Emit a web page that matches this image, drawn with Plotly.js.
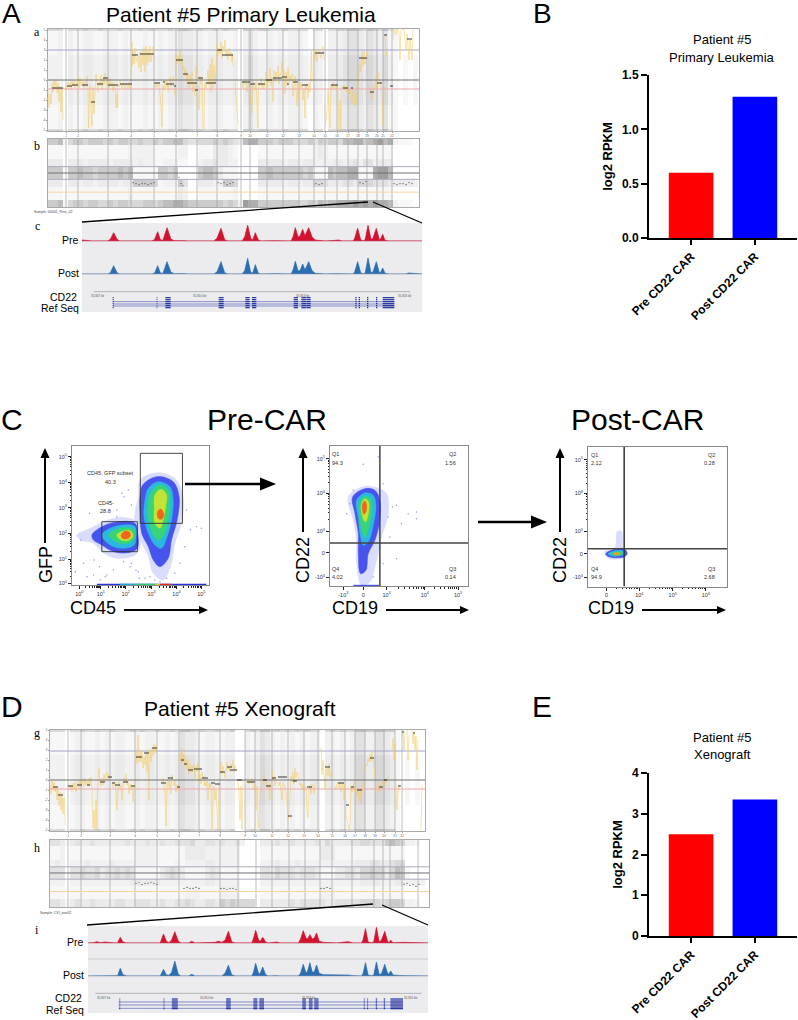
<!DOCTYPE html>
<html><head><meta charset="utf-8">
<script src="https://cdn.plot.ly/plotly-3.0.1.min.js"></script>
<style>html,body{margin:0;padding:0;background:#fff}#c{width:798px;height:1020px}</style>
</head><body><div id="c"></div>
<script>
// ---------- Bar panels ----------
const barCategories = ["Pre CD22 CAR", "Post CD22 CAR"];
const barColors = ["#ff0000", "#0000ff"];
const primaryRPKM = [0.6, 1.3];
const xenoRPKM = [2.5, 3.35];

// ---------- Copy-number panel a (primary leukemia) ----------
const aChromLines = [66,78,108,131,154,176,197,217,241,250,267,283,299,314,325,337,348,358,367,377,383,392];
const aSegStart = [52,67,72,82,91,97,103,108,120,132,140,154,163,166,174,176,183,187,195,198,206,217,222,242,250,258,266,273,282,287,293,302,315,331,343,351,359,370,377,384,390,407];
const aSegEnd   = [63,72,78,88,95,103,108,118,132,138,154,160,165,174,176,183,188,197,198,203,216,222,233,250,255,265,272,282,287,289,298,308,324,338,348,353,367,374,382,387,393,412];
const aSegLevel = [-8,-6,-5,-5,-22,-4,2,-5,-4,25,26,-3,-2,-4,-6,20,6,-3,-10,2,-3,30,25,-2,-4,-4,0,2,3,-4,-2,-5,27,-5,-8,-8,22,-12,-3,45,-6,41];
const aYellowX = [48,49,50,51,52,53,54,55,56,57,58,59,60,61,62,63,null,
66,67,68,69,70,71,72,73,74,75,76,77,78,79,80,81,83,84,85,86,87,88,88.5,89,90,91,92,92.5,93,94,95,96,97,98,99,100,101,102,103,104,105,106,107,108,
109,110,111,112,113,114,115,116,117,117.5,118,119,120,122,123,125,126,128,129,130,131,
132,132.5,133,134,135,136,137,138,139,140,141,142,143,144,145,146,147,148,149,150,151,152,153,154,null,
155,156,157,158,159,160,161,162,162.5,163,164,165,166,167,168,169,170,171,172,173,174,175,175.5,
176,177,178,179,180,181,182,183,184,185,186,187,188,189,190,191,192,193,194,195,196,197,198,199,199.5,200,201,202,203,204,204.5,205,206,207,208,209,210,211,212,213,214,215,216,
217,218,219,220,221,222,223,224,225,226,227,228,229,230,231,232,232.5,233,null,235,236,237,238,null,
241,242,243,244,245,246,247,248,249,250,251,252,252.5,253,254,255,256,257,258,258.5,259,260,261,262,263,264,265,266,267,268,269,270,271,272,273,273.5,274,275,276,277,278,279,280,281,282,283,284,285,286,287,288,289,290,291,292,293,294,295,296,297,298,299,300,301,302,303,304,305,305.5,306,307,308,309,310,311,311.5,312,null,
314,315,316,317,318,319,320,321,322,323,324,null,
326,327,328,329,330,331,332,333,334,335,336,337,338,339,340,341,341.5,342,343,344,345,346,347,348,349,350,351,352,353,354,355,356,357,358,359,360,361,362,363,364,365,366,367,368,null,
369,370,371,372,373,374,375,376,377,378,379,380,381,382,383,384,null,385,386,387,null,393,394,396,397,399,400,401,404,406,407,408,409,410,411,412,413];
const aYellowY = [-10,-28,-14,-24,-3,-12,1,-8,0,-13,-3,-22,-6,-32,-8,-40,null,
-5,-10,-2,-7,-3,-9,-1,-6,0,-8,-3,-4,3,-8,2,-6,-1,-8,-2,-5,4,-10,-48,-25,-5,-30,-46,-15,-7,-34,-8,6,-3,-12,-2,-6,5,-10,2,-5,7,1,-6,-2,
-8,2,-6,-2,-11,-3,-7,-28,-14,-28,-4,-7,-1,-8,-3,-9,-3,-8,-2,-9,-4,
38,14,30,16,32,18,22,24,12,28,8,30,15,33,8,34,15,30,18,34,18,27,33,20,null,
-4,-8,-2,-7,-4,-12,-25,-47,-14,-5,-10,-1,-8,0,-12,-3,3,-7,-2,4,-6,-15,-8,
26,16,24,18,30,16,22,10,14,4,10,-2,6,-8,5,-5,8,-12,-2,-16,14,0,-8,-30,-6,4,-4,2,-46,-50,-10,-3,-8,-2,10,-5,16,-12,22,-8,15,-3,8,
36,24,32,26,38,22,34,28,40,24,30,20,32,24,28,18,26,14,null,-2,-20,-38,-44,null,
-6,-1,-8,0,-4,-3,-12,-3,-6,-14,-20,-33,-8,-1,-7,-10,-2,-38,-48,-8,-3,-6,2,-9,-3,-10,-2,8,-8,1,-3,12,-6,3,-22,-4,10,-2,8,3,14,-4,6,5,18,0,10,-14,8,-6,12,-2,4,0,6,-16,-2,4,-6,-26,-4,-20,-2,-8,-4,-20,-8,-38,-4,-10,-4,-18,-3,-12,16,30,-2,null,
32,20,30,18,25,30,26,22,28,34,20,null,
-44,-30,-10,-30,-48,-5,-10,-2,-8,-6,-10,-5,-12,-50,-20,-50,-10,-6,-8,-5,-10,-6,-12,-8,-14,-10,-18,-24,-8,-20,-26,-12,-24,-6,3,18,8,28,14,30,16,24,28,20,null,
-6,-14,-10,-20,-14,-6,-10,4,-10,8,2,-2,-6,-16,-46,-6,null,44,24,30,null,40,51,45,51,48,20,50,51,30,46,35,20,40,32,20,50];
// gray dot density per 5-unit column, one string per horizontal band
const aBandEdges = [-51,-49,-25,25,49,51];
const aDensityEdge  = "555"+"1"+"55"+"565565"+"55655"+"56565"+"5565"+"776"+"56556"+"5655"+"0"+"66566"+"55565"+"5551"+"55"+"0"+"5566"+"7765"+"76574"+"10000";
const aDensityOuter = "112"+"0"+"21"+"122112"+"22121"+"11211"+"2122"+"433"+"22122"+"2112"+"0"+"24211"+"21212"+"2210"+"21"+"0"+"2223"+"4432"+"43241"+"10000";
const aDensityMid   = "222"+"0"+"32"+"233223"+"33232"+"22322"+"3233"+"544"+"33233"+"3223"+"0"+"35322"+"32323"+"3321"+"32"+"0"+"3334"+"5543"+"54352"+"10101";

// ---------- B-allele panel b ----------
const bBandEdges = [-32,-25,-13,-6,6,13,26,32];
const bDensity = [
 "667"+"1"+"5665665565665"+"556656778"+"8766"+"66666565"+"2"+"988"+"66666666556"+"576"+"7788898989887"+"21110",
 "111"+"0"+"1111111111112"+"111111111"+"3200"+"11111112"+"0"+"000"+"11111111111"+"111"+"1111111111111"+"00000",
 "333"+"0"+"3323323333233"+"666651222"+"6400"+"33322665"+"0"+"000"+"33333233233"+"554"+"333443"+"555"+"4443"+"33332",
 "666"+"0"+"6676656666767"+"111116656"+"0000"+"67763111"+"0"+"000"+"66766666656"+"111"+"767788"+"111"+"8997"+"00000",
 "333"+"0"+"3332333323333"+"232211222"+"1100"+"23343322"+"0"+"000"+"33333233233"+"222"+"2332342442333"+"00000",
 "111"+"0"+"1111111111112"+"222211111"+"2200"+"11133321"+"0"+"000"+"11111111111"+"232"+"1111111111111"+"00000",
 "667"+"1"+"5665666565665"+"565565667"+"7544"+"55565654"+"3"+"788"+"66656665556"+"465"+"6657788678978"+"21110"
];
const bDotsX = [133,136,139,142,145,148,151,154,179,181,183,218,221,224,227,230,233,316,319,322,360,363,366,394,397,400,403,406,409,412];
const bDotsY = [-9,-10,-11,-10,-10,-11,-10,-9,-4,-10,-12,-9,-10,-9,-11,-10,-9,-10,-11,-10,-9,-10,-8,-10,-11,-10,-10,-11,-9,-10];

// ---------- Copy-number panel g (xenograft) ----------
const gChromLines = [68,81,110,135,157,179,199,220,245,255,272,288,304,318,332,345,355,365,375,384,395,402];
const gSegStart = [53,58,68,77,87,100,108,112,115,123,131,136,144,152,161,168,177,181,184,188,194,202,211,215,220,227,230,237,247,263,266,272,278,288,293,307,325,338,346,351,357,370,379,384,398,402,413];
const gSegEnd   = [58,63,73,82,90,105,112,115,120,128,135,142,149,157,166,173,180,184,187,193,202,208,215,220,225,232,237,242,255,267,271,276,287,292,297,312,330,344,349,354,362,374,383,387,401,404,415];
const gSegLevel = [-7,-15,-6,-5,-5,-2,3,-3,-5,-2,-6,23,27,32,-3,2,-7,20,16,10,11,2,-3,-4,8,13,10,0,-2,0,-6,2,3,-36,-1,-7,13,-3,-25,-7,-10,22,-7,0,-6,48,47];
const gYellowX = [50,51,52,53,54,55,56,57,58,59,60,61,62,63,64,65,65.5,null,
69,70,71,72,73,74,75,76,77,78,79,80,81,83,84,85,86,87,88,89,90,91,92,93,94,95,96,97,97.5,98,99,100,101,102,103,104,105,106,107,108,109,110,null,
112,113,115,116,117,118,119,120,121,122,123,124,125,126,127,128,129,130,131,132,133,134,135,
136,137,138,139,140,141,142,143,144,145,146,147,148,149,150,151,152,153,154,155,156,157,null,
162,163,164,165,166,166.5,167,168,169,170,171,172,173,174,175,176,177,178,179,null,
180,181,182,183,184,185,186,187,188,189,190,191,192,193,194,195,196,197,198,199,200,201,202,203,204,204.5,205,206,207,208,209,210,211,212,213,214,215,216,217,218,219,220,221,222,223,224,225,226,227,228,229,230,231,232,233,234,235,236,null,
238,239,240,240.5,241,242,243,null,
247,248,249,250,251,252,253,254,255,256,257,258,259,260,262,263,264,265,266,267,268,269,270,271,272,273,274,275,276,278,279,280,282,283,284,285,286,287,288,289,290,291,292,293,294,295,296,297,298,299,300,301,302,303,304,305,306,307,308,309,310,311,312,313,314,315,316,null,
321,322,323,324,325,326,327,328,329,330,331,null,
335,336,337,338,339,340,341,342,343,344,345,346,347,348,349,350,351,352,353,354,355,356,357,358,359,360,361,362,363,364,365,366,367,368,369,370,371,372,373,374,375,null,
376,377,378,379,380,381,382,383,384,385,386,387,388,null,392,393,394,395,396,397,398,399,null,
403,404,405,null,407,408,409,null,412,413,414,415,416,417,418,null,421,422];
const gYellowY = [-5,-14,0,-10,-2,-12,-6,-20,-8,-26,-12,-30,-14,-34,-18,-38,-45,null,
-3,-10,-5,-11,-3,-10,-2,-12,-6,-2,-8,1,-7,1,-6,2,-5,-1,-6,2,-6,3,-10,-48,-30,-50,-20,-49,-12,-6,12,-2,-6,2,-5,6,-2,4,8,0,6,1,null,
-2,-8,-2,-12,-30,-6,-2,-10,-5,-20,-3,2,-3,6,-5,-1,-14,-4,-10,-5,-22,-6,-8,
30,16,45,18,28,18,30,12,24,15,28,8,30,-20,30,18,32,24,36,26,35,28,null,
-4,2,-6,-15,-46,-10,-3,3,-8,-1,-14,5,-3,-6,-1,-12,-5,-4,-8,null,
28,16,32,18,26,14,22,10,20,6,16,8,14,8,16,2,14,8,18,-2,6,-4,8,2,4,-6,-2,-6,-1,-20,-3,-8,-4,-50,-12,-6,-20,-10,-30,-50,-8,4,18,6,14,8,2,10,18,10,14,8,16,12,20,8,15,10,null,
-2,-12,-40,-18,-6,-50,0,null,
-3,1,-4,0,-3,2,-6,-10,-4,-30,-6,-40,-48,-12,-4,-1,4,-2,-6,-2,-10,-4,-20,-4,10,0,4,-6,-1,-3,-6,-2,-20,-3,-4,-6,-12,-30,-40,-34,-4,4,-2,8,-4,12,2,8,6,-1,-6,-3,-10,-4,-12,-6,-8,-30,-38,-10,-5,-14,-4,-5,-14,-4,-2,null,
32,5,20,8,-10,10,12,4,16,2,10,null,
-6,-10,-3,-2,-8,-3,-12,-6,-3,-20,-4,-36,-42,-46,-50,-44,-6,-12,-5,-2,-12,-8,-16,-10,-20,-8,-24,-12,-2,10,12,16,14,22,18,26,18,28,20,14,2,null,
-12,-8,-2,-12,-4,-10,-2,-4,0,-6,1,-2,4,null,30,42,20,36,-10,-30,-10,-6,null,
48,30,48,null,50,20,45,null,50,36,48,30,44,10,40,null,-50,-5];
const gBandEdges = [-51,-49,-25,25,48,50];
const gDensityEdge  = "555"+"1"+"5565565565556565565565"+"776"+"56556556"+"00"+"565"+"77"+"5656565655"+"0"+"565655"+"77"+"66"+"77"+"66"+"110000";
const gDensityOuter = "111"+"0"+"1221121212211212211212"+"433"+"21221122"+"00"+"212"+"43"+"2121212122"+"0"+"221212"+"44"+"22"+"44"+"32"+"100000";
const gDensityMid   = "222"+"0"+"2332232323322323322323"+"544"+"32332233"+"00"+"323"+"54"+"3232323233"+"0"+"332323"+"55"+"33"+"55"+"43"+"101010";

// ---------- B-allele panel h ----------
const hChromLines = [68,81,110,135,157,179,220,238,256,272,289,305,320,332,352,374,383,390,402,418];
const hBandEdges = [-33,-25,-13,-6,6,13,26,32];
const hDensity = [
 "443"+"1"+"3433433334433"+"4443343344"+"5433443"+"6565"+"5550"+"333333434444"+"433"+"44444555545665"+"2210",
 "111"+"0"+"1111111111111"+"1111111111"+"2221111"+"2222"+"0000"+"111111111111"+"222"+"11111111111111"+"0000",
 "222"+"0"+"2222222222223"+"3333322222"+"2222332"+"2222"+"0000"+"222222222222"+"222"+"22222333322233"+"2222",
 "444"+"0"+"4454453445454"+"1111134543"+"1111343"+"1111"+"0000"+"443544434443"+"111"+"33443556553576"+"1000",
 "232"+"0"+"2223222232222"+"2222111121"+"2222332"+"2222"+"0000"+"222322232222"+"222"+"22223334433455"+"0000",
 "112"+"0"+"1111111111111"+"2222111111"+"3333222"+"2222"+"0000"+"111111111111"+"333"+"11111111111111"+"0000",
 "443"+"1"+"3433433333343"+"3343343344"+"4533443"+"4334"+"2000"+"333433433334"+"353"+"33344554446765"+"2210"
];
const hDotsX = [136,139,142,145,148,151,154,157,184,187,190,193,196,199,221,224,227,230,233,236,321,324,327,330,404,407,410,413,416,419];
const hDotsY = [-10,-9,-11,-10,-10,-9,-10,-11,-15,-14,-15,-15,-14,-15,-15,-15,-16,-15,-15,-16,-15,-15,-14,-15,-11,-10,-12,-11,-13,-11];

// ---------- Coverage tracks c ----------
const cX    = [245,265,275, 322,330,340,350,358, 455,463,472,480,488,500,512,522, 545,553,562, 640,650,662,673,682, 725,733,742,751,757,765,774,782, 820, 872,878,885,893,899,907,914,925,935,945,975, 1005,1015,1025, 1058,1063,1072,1081,1090,1095,1103,1112,1118,1128,1137,1141,1147,1154,1165, 1215,1225,1265];
const cPre  = [3,2,0, 0,5,25,5,0, 0,5,28,4,2,40,5,1, 2,1,0, 0,8,38,4,0, 0,12,47,8,3,25,3,0, 1, 0,12,40,12,15,35,16,40,12,3,0, 2,3,0, 0,8,38,4,0,6,47,5,8,38,4,6,20,2,0, 0,0,0];
const cPost = [0,1,0, 0,4,25,4,0, 0,3,25,3,2,37,5,1, 2,1,0, 0,6,37,4,0, 0,10,47,6,2,28,2,0, 1, 0,12,38,10,10,30,12,37,10,2,0, 1,1,0, 0,6,37,4,0,5,48,4,6,37,4,5,18,2,0, 0,3,0];
const cGeneExonStart = [337,469,495,655,735,755,880,903,918,1065,1075,1100,1127,1147];
const cGeneExonEnd   = [340,471,511,670,748,768,893,917,931,1069,1079,1104,1131,1182];
const cGeneRows = [893,899,905,911,917,923];
const cGeneLines = [905,912,918];
const cRulerLabels = ["35,807 kb","35,810 kb","35,813 kb","35,816 kb"];
const cRulerPos = [292,600,908,1215];

// ---------- Coverage tracks i ----------
const iX    = [83,100,110,120,135,150,165, 172,180,188,200, 300,310,318,326,334,344,354,362, 385,395,405, 465,475,485,495,505,515,525, 575,580,587,596,601,608,617,625, 650,660, 715,722,730,738,743,750,757,763,770,778,790, 830,855,865,880, 905,910,917,925,935,942,950,958,965,975,984,988,993,1000,1030,1105];
const iPre  = [0,1,4,1,3,1,0, 1,17,3,0, 0,27,6,1,8,34,6,0, 0,5,0, 2,5,2,8,35,4,0, 0,12,38,8,5,17,3,0, 3,0, 0,12,37,15,12,25,12,14,30,5,2, 0,3,4,0, 0,10,43,3,1,3,47,4,8,35,3,2,8,1,2,0];
const iPost = [0,0,1,0,1,0,0, 1,23,4,0, 0,20,4,2,10,45,6,0, 0,5,0, 0,1,0,8,32,4,0, 0,10,38,6,8,27,4,0, 1,0, 0,8,35,10,14,40,12,12,33,8,4, 2,3,3,1, 0,8,40,3,1,3,42,5,6,35,6,7,15,3,1,0];
const iGeneExonStart = [177,310,335,498,580,598,727,747,763,912,922,948,972,992];
const iGeneExonEnd   = [180,313,353,512,592,612,738,758,776,915,925,952,976,1030];
const iGeneRows = [297,303,309,315,321,326];
const iGeneLines = [306,315,325];
const iRulerLabels = ["35,807 kb","35,810 kb","35,813 kb","35,816 kb"];
const iRulerPos = [130,440,748,1055];

// ---------- Flow plots: density outlines in channel units, lightest layer first ----------
const flowColors = ["#d9dcfb","#4653ec","#2cb8de","#38d478","#c4e434","#f2641e"];
const f1BlobBX = [[240,290,345,370,365,345,335,310,280,265,245,225,225,235],[248,290,340,358,352,335,325,300,280,265,245,240,240],[265,295,330,340,335,320,305,285,265,252,255],[275,300,325,330,325,312,295,278,265,265],[285,303,320,318,310,300,285,283],[293,303,312,305,295]];
const f1BlobBY = [[150,128,145,200,280,340,400,450,430,380,340,300,250,200],[165,140,155,200,270,330,385,410,390,350,310,250,200],[175,155,170,210,270,325,355,345,310,260,210],[185,165,180,220,270,315,330,310,265,215],[195,178,195,225,270,295,280,235],[245,237,255,268,265]];
const f1BlobAX = [[50,90,130,180,225,240,240,225,170,125,100,60],[95,125,175,225,233,232,205,160,125,100],[125,150,190,225,228,222,190,150],[145,165,195,222,222,205,175],[170,190,212,218,200,180],[183,197,210,210,198,186]];
const f1BlobAY = [[315,295,275,262,272,300,350,375,385,365,340,330],[315,290,275,280,310,355,368,365,345,330],[315,295,285,290,320,345,355,345],[315,300,293,300,325,340,338],[315,303,303,320,332,328],[315,303,308,320,327,324]];
const f1SpeckX = [45,62,70,88,102,118,135,150,170,185,205,215,228,238,380,392,410,425,375,360,345,320,300,285,270,255,235,210,190,160,140,120,100,80,170,192,214];
const f1SpeckY = [425,330,400,250,390,410,440,215,240,190,180,400,420,445,240,300,290,295,350,400,430,445,455,450,440,445,425,410,395,420,435,450,435,440,260,200,225];
const f1GateX = [[241,368,368,241,241],[125,232,232,125,125]];
const f1GateY = [[70,70,280,280,70],[275,275,365,365,275]];
const f1TickX = [57,122,197,275,350,425];
const f1TickY = [80,157,233,310,388,460];
const f1TickText = ["5","4","3","2","1","0"];
const f1XTickText = ["0","1","2","3","4","5"];
const f1AxisStripX = [[110,440],[180,225],[225,285],[285,300],[300,336]];
const f1AxisStripColors = ["#2733e6","#1fb4d8","#2fd26e","#e6d820","#ef2b1e"];

const f2BlobX = [[1045,1085,1125,1160,1165,1145,1130,1110,1085,1070,1070,1060],[1058,1095,1125,1140,1140,1125,1105,1098,1082,1075,1075,1065],[1070,1095,1120,1128,1122,1105,1090,1082,1075],[1078,1095,1112,1116,1110,1095,1085,1080],[1084,1095,1106,1106,1097,1090],[1087,1095,1100,1098,1092]];
const f2BlobY = [[320,290,290,310,370,440,510,575,585,520,450,390],[320,295,300,330,390,450,490,540,550,490,430,370],[330,308,315,345,395,455,465,440,385],[340,318,325,350,395,440,420,380],[345,325,335,365,395,385],[345,332,345,365,372]];
const f2SpeckX = [1090,1135,1150,1165,1178,1190,1205,1225,1250,1250,1170,1190,1060,1050,1040,1150,1140,1120];
const f2SpeckY = [222,200,280,380,350,345,400,370,365,385,440,505,300,340,370,520,470,560];
const f2TickX = [1030,1090,1160,1275,1375];
const f2XText = ["-10<sup>3</sup>","0","10<sup>3</sup>","10<sup>4</sup>","10<sup>5</sup>"];
const f2TickY = [205,308,422,487,560];
const f2YText = ["10<sup>5</sup>","10<sup>4</sup>","10<sup>3</sup>","0","-10<sup>3</sup>"];
const f2QuadLabels = ["Q1","94.3","Q2","1.56","Q4","4.02","Q3","0.14"];
const f2QuadX = [1008,1014,1358,1352,1008,1014,1358,1352];
const f2QuadY = [192,218,192,218,535,560,535,560];
const f2GateVX = 1140, f2GateHY = 458;

const f3BlobX = [[195,225,232,245,250,262,245,205],[198,220,255,262,250,205],[205,225,250,255,240,212],[212,228,245,248,235],[220,230,240,238,225]];
const f3BlobY = [[365,355,305,305,355,372,385,385],[372,360,358,372,382,380],[372,363,363,372,378,378],[372,366,367,372,376],[372,368,370,374,375]];
const f3BlobColors = ["#d9dcfb","#4653ec","#2cb8de","#38d478","#f0a020"];
const f3TickX = [200,298,398,497];
const f3XText = ["0","10<sup>4</sup>","10<sup>5</sup>","10<sup>6</sup>"];
const f3TickY = [90,190,305,372,443];
const f3YText = ["10<sup>5</sup>","10<sup>4</sup>","10<sup>3</sup>","0","-10<sup>3</sup>"];
const f3QuadLabels = ["Q1","2.12","Q2","0.28","Q4","94.9","Q3","2.68"];
const f3QuadX = [163,170,513,508,163,170,513,508];
const f3QuadY = [76,100,76,100,417,441,417,441];
const f3GateVX = 253, f3GateHY = 357;

// ---------- helpers ----------
const W = 798, H = 1020, SANS = "Liberation Sans, Arial, sans-serif", SERIF = "Liberation Serif, Times New Roman, serif";
const traces = [], annotations = [], shapes = [];
const layout = {width:W,height:H,margin:{l:0,r:0,t:0,b:0,pad:0},paper_bgcolor:"#fff",plot_bgcolor:"rgba(0,0,0,0)",showlegend:false,font:{family:SANS,color:"#000"},annotations,shapes,hovermode:false};
let axisCount = 0;
function panel(l,r,top,bot,xo,yo){
  axisCount++; const n = axisCount===1?"":axisCount;
  const id = {x:"x"+n,y:"y"+n};
  layout["xaxis"+n] = Object.assign({domain:[l/W,r/W],anchor:id.y,showgrid:false,zeroline:false,showticklabels:false,ticks:""},xo);
  layout["yaxis"+n] = Object.assign({domain:[1-bot/H,1-top/H],anchor:id.x,showgrid:false,zeroline:false,showticklabels:false,ticks:""},yo);
  return id;
}
function add(id,t){traces.push(Object.assign({xaxis:id.x,yaxis:id.y,hoverinfo:"skip"},t));}
function label(text,px,py,size,o){annotations.push(Object.assign({text,xref:"paper",yref:"paper",x:px/W,y:1-py/H,showarrow:false,xanchor:"center",yanchor:"middle",font:{size,family:SANS,color:"#000"}},o||{}));}
function pline(x0,y0,x1,y1,w,c){shapes.push({type:"line",xref:"paper",yref:"paper",x0:x0/W,y0:1-y0/H,x1:x1/W,y1:1-y1/H,line:{color:c||"#000",width:w}});}
function arrow(x0,y0,x1,y1,w,hl,hw){
  const d=Math.hypot(x1-x0,y1-y0),ux=(x1-x0)/d,uy=(y1-y0)/d;
  const bx=x1-ux*hl,by=y1-uy*hl;
  pline(x0,y0,bx,by,w);
  const P=(x,y)=>(x/W)+","+(1-y/H);
  shapes.push({type:"path",xref:"paper",yref:"paper",path:"M"+P(x1,y1)+" L"+P(bx-uy*hw,by+ux*hw)+" L"+P(bx+uy*hw,by-ux*hw)+" Z",fillcolor:"#000",line:{width:0}});
}
function vLines(id,list,lo,hi,c,w){const xs=[],ys=[];list.forEach(v=>{xs.push(v,v,null);ys.push(lo,hi,null);});add(id,{type:"scatter",mode:"lines",x:xs,y:ys,line:{color:c,width:w}});}
function hLine(id,a,b,y,c,w){add(id,{type:"scatter",mode:"lines",x:[a,b],y:[y,y],line:{color:c,width:w}});}
const grayScale=[[0,"#ffffff"],[0.11,"#f7f7f7"],[0.22,"#f1f1f1"],[0.33,"#ebebeb"],[0.44,"#e2e2e2"],[0.56,"#d8d8d8"],[0.67,"#cbcbcb"],[0.78,"#bdbdbd"],[0.89,"#aeaeae"],[1,"#9e9e9e"]];
function density(id,x0,step,rows,edges){
  const n=Math.max.apply(null,rows.map(s=>s.length));
  const z=rows.map(s=>{const a=s.split("").map(Number);while(a.length<n)a.push(0);return a;});
  const xe=[];for(let i=0;i<=n;i++)xe.push(x0+step*i);
  add(id,{type:"heatmap",x:xe,y:edges,z,zmin:0,zmax:9,colorscale:grayScale,showscale:false,zsmooth:false});
}
function segs(id,s,e,v){const xs=[],ys=[];s.forEach((a,i)=>{xs.push(a,e[i],null);ys.push(v[i],v[i],null);});add(id,{type:"scatter",mode:"lines",x:xs,y:ys,line:{color:"#222",width:0.9}});}
const genomeAxis=(a,b)=>({range:[a,b],showline:true,mirror:true,linecolor:"#aaaaaa",linewidth:1});

function cnPanel(top,bot,xr,chrom,rows,edges,yx,yy,ss,se,sl,blueY){
  const yTicks=[-50,-40,-30,-20,-10,0,10,20,30,40,50];
  const id=panel(xr[0],xr[1],top,bot,Object.assign(genomeAxis(xr[0],xr[1]),{showticklabels:true,tickmode:"array",tickvals:chrom,ticktext:chrom.map((c,i)=>String(i+1)),tickfont:{size:3,color:"#555"},ticks:"outside",ticklen:1,tickcolor:"#999"}),
    Object.assign(genomeAxis(edges[0],edges[edges.length-1]),{showticklabels:true,tickmode:"array",tickvals:yTicks,ticktext:yTicks.map(v=>(v/10).toFixed(0)),tickfont:{size:3,color:"#555"},ticks:"outside",ticklen:1,tickcolor:"#999"}));
  density(id,xr[0],5,rows,edges);
  vLines(id,chrom,edges[0],edges[edges.length-1],"#a0a0a0",0.7);
  hLine(id,xr[0],xr[1],blueY,"#a4a4cc",1);
  add(id,{type:"scatter",mode:"lines",x:yx,y:yy,connectgaps:false,line:{color:"rgba(243,204,96,0.72)",width:0.75}});
  hLine(id,xr[0],xr[1],0,"#707070",1);
  hLine(id,xr[0],xr[1],-9,"#f0a8a8",1);
  segs(id,ss,se,sl);
}
function bafPanel(top,bot,xr,chrom,rows,edges,dx,dy){
  const id=panel(xr[0],xr[1],top,bot,genomeAxis(xr[0],xr[1]),genomeAxis(edges[0],edges[edges.length-1]));
  density(id,xr[0],5,rows,edges);
  vLines(id,chrom,edges[0],edges[edges.length-1],"#a0a0a0",0.7);
  hLine(id,xr[0],xr[1],6,"#b0a8bc",1);
  hLine(id,xr[0],xr[1],0,"#707070",1);
  hLine(id,xr[0],xr[1],-6,"#b0a8bc",1);
  hLine(id,xr[0],xr[1],-18,"#f5d4a0",1);
  add(id,{type:"scatter",mode:"markers",x:dx,y:dy,marker:{size:1.2,color:"#444"}});
}
function track(l,r,top,bot,xr,xs,ys,color){
  const id=panel(l,r,top,bot,{range:xr},{range:[0,(bot-top)*3]});
  add(id,{type:"scatter",mode:"lines",x:xs,y:ys,fill:"tozeroy",fillcolor:color,line:{color,width:0.7}});
}
function gene(l,r,top,bot,xr,ss,se,rows,geneLines,lineStart,lineEnd,rulerY,rulerFrom,rulerTo,rPos,rLab){
  const id=panel(l,r,top,bot,{range:xr},{range:[bot*3,top*3]});
  add(id,{type:"scatter",mode:"lines",x:[rulerFrom,rulerTo],y:[rulerY,rulerY],line:{color:"#9a9a9a",width:0.7}});
  const lx=[],ly=[];geneLines.forEach(y=>{lx.push(lineStart,lineEnd,null);ly.push(y,y,null);});
  add(id,{type:"scatter",mode:"lines",x:lx,y:ly,line:{color:"#5a64b8",width:0.7}});
  const ex=[],ey=[];ss.forEach((a,i)=>rows.forEach(y=>{ex.push(a,se[i],null);ey.push(y,y,null);}));
  add(id,{type:"scatter",mode:"lines",x:ex,y:ey,line:{color:"#20309c",width:1.2}});
  rPos.forEach((p,i)=>annotations.push({text:rLab[i],xref:id.x,yref:id.y,x:p,y:rulerY+2,showarrow:false,font:{size:3,color:"#555",family:SANS},yanchor:"top"}));
  return id;
}
function flowAxes(l,r,top,bot,xr,yr,xt,xtt,yt,ytt,minorX,minorY){
  const common={showline:true,mirror:true,linecolor:"#888888",linewidth:1,showticklabels:true,ticks:"outside",ticklen:3,tickcolor:"#222",tickwidth:1,tickfont:{size:5.5,color:"#333"},tickmode:"array"};
  return panel(l,r,top,bot,Object.assign({},common,{range:xr,tickvals:xt,ticktext:xtt,minor:{ticks:"outside",ticklen:1.5,tickcolor:"#222",tickmode:"array",tickvals:minorX}}),
                        Object.assign({},common,{range:yr,tickvals:yt,ticktext:ytt,minor:{ticks:"outside",ticklen:1.5,tickcolor:"#222",tickmode:"array",tickvals:minorY}}));
}
function blobs(id,X,Y,colors){X.forEach((xs,i)=>add(id,{type:"scatter",mode:"lines",x:xs.concat(xs[0]),y:Y[i].concat(Y[i][0]),fill:"toself",fillcolor:colors[i],line:{color:colors[i],width:0.5,shape:"spline",smoothing:1}}));}
function minorBetween(t){const out=[];const k=[2,3,4,5,6,7,8,9];for(let i=0;i<t.length-1;i++){k.forEach(v=>out.push(t[i]+(t[i+1]-t[i])*Math.log10(v)));}return out;}
function quad(id,labs,xs,ys){labs.forEach((t,i)=>annotations.push({text:t,xref:id.x,yref:id.y,x:xs[i],y:ys[i],showarrow:false,font:{size:5.5,color:"#333",family:SANS}}));}
function barPanel(top,bot,vals,ymax,ticks){
  const id=panel(649,797,top,bot,
   {range:[-0.66,1.66],showline:true,linewidth:2,linecolor:"#000",ticks:"outside",ticklen:5,tickwidth:2,tickcolor:"#000",showticklabels:true,tickmode:"array",tickvals:[0,1],ticktext:barCategories,tickangle:-45,tickfont:{size:12,family:SANS,weight:700,color:"#000"}},
   {range:[0,ymax],showline:true,linewidth:2,linecolor:"#000",ticks:"outside",ticklen:6,tickwidth:2,tickcolor:"#000",showticklabels:true,tickmode:"array",tickvals:ticks,ticktext:ticks.map(t=>ymax<2?t.toFixed(1):String(t)),tickfont:{size:12,family:SANS,weight:700,color:"#000"},title:{text:"log2 RPKM",font:{size:13,family:SANS,weight:700,color:"#000"},standoff:6}});
  add(id,{type:"bar",x:[0,1],y:vals,width:0.7,marker:{color:barColors,line:{width:0}}});
}

// ---------- panel backgrounds ----------
shapes.push({type:"rect",layer:"below",xref:"paper",yref:"paper",x0:82/W,x1:422/W,y0:1-312/H,y1:1-223/H,fillcolor:"#ececee",line:{width:0}});
shapes.push({type:"rect",layer:"below",xref:"paper",yref:"paper",x0:88/W,x1:428/W,y0:1-1013/H,y1:1-926/H,fillcolor:"#ececee",line:{width:0}});

// ---------- A ----------
cnPanel(29,131,[48,419],aChromLines,[aDensityEdge,aDensityOuter,aDensityMid,aDensityOuter,aDensityEdge],aBandEdges,aYellowX,aYellowY,aSegStart,aSegEnd,aSegLevel,30);
bafPanel(139,207,[48,419],aChromLines,bDensity,bBandEdges,bDotsX,bDotsY);
track(82,422,223,241,[245,1265],cX,cPre,"#d2122e");
track(82,422,256,274,[245,1265],cX,cPost,"#2a6db0");
gene(82,422,285,312,[245,1265],cGeneExonStart,cGeneExonEnd,cGeneRows,cGeneLines,338,1182,875,280,1230,cRulerPos,cRulerLabels);
pline(82,222,368,202,1.3); pline(373,202,422,223,1.3);
pline(82,241,422,241,0.6,"#c8506a"); pline(82,274,422,274,0.6,"#8d97b0");

// ---------- B ----------
barPanel(75,238,primaryRPKM,1.5,[0,0.5,1,1.5]);

// ---------- C flow ----------
const f1 = flowAxes(72,209,446,585,[35,448],[465,48],f1TickX,f1XTickText.map(t=>"10<sup>"+t+"</sup>"),f1TickY,f1TickText.map(t=>"10<sup>"+t+"</sup>"),minorBetween(f1TickX),minorBetween(f1TickY.slice().reverse()));
blobs(f1,f1BlobBX,f1BlobBY,flowColors);
blobs(f1,f1BlobAX,f1BlobAY,flowColors);
add(f1,{type:"scatter",mode:"markers",x:f1SpeckX,y:f1SpeckY,marker:{size:1.5,color:"#8f98ee"}});
f1AxisStripX.forEach((s,i)=>add(f1,{type:"scatter",mode:"lines",x:s,y:[463,463],line:{color:f1AxisStripColors[i],width:1.2}}));
f1GateX.forEach((g,i)=>add(f1,{type:"scatter",mode:"lines",x:g,y:f1GateY[i],line:{color:"#333",width:0.9}}));
quad(f1,["CD45, GFP subset","40.3","CD45-","28.8"],[152,152,137,137],[130,155,218,243]);

const f2 = flowAxes(330,468,446,586,[990,1405],[587,167],f2TickX,f2XText,f2TickY,f2YText,minorBetween(f2TickX.slice(2)),minorBetween(f2TickY.slice(0,3).reverse()));
blobs(f2,f2BlobX,f2BlobY,flowColors);
add(f2,{type:"scatter",mode:"markers",x:f2SpeckX,y:f2SpeckY,marker:{size:1.5,color:"#8f98ee"}});
add(f2,{type:"scatter",mode:"lines",x:[f2GateVX,f2GateVX],y:[167,587],line:{color:"#444",width:1.5}});
add(f2,{type:"scatter",mode:"lines",x:[990,1405],y:[f2GateHY,f2GateHY],line:{color:"#444",width:1.5}});
add(f2,{type:"scatter",mode:"lines",x:[1060,1140],y:[585,585],line:{color:"#2733e6",width:1}});
add(f2,{type:"scatter",mode:"markers",x:[985],y:[488],cliponaxis:false,marker:{size:4,symbol:"square",color:"#222"}});
quad(f2,f2QuadLabels,f2QuadX,f2QuadY);

const f3 = flowAxes(588,727,446.5,586.5,[145,560],[470,50],f3TickX,f3XText,f3TickY,f3YText,minorBetween(f3TickX),minorBetween(f3TickY.slice(0,3).reverse()));
blobs(f3,f3BlobX,f3BlobY,f3BlobColors);
add(f3,{type:"scatter",mode:"lines",x:[f3GateVX,f3GateVX],y:[50,470],line:{color:"#333",width:1.5}});
add(f3,{type:"scatter",mode:"lines",x:[145,560],y:[f3GateHY,f3GateHY],line:{color:"#444",width:1.5}});
add(f3,{type:"scatter",mode:"markers",x:[140,195],y:[372,472],cliponaxis:false,marker:{size:4,symbol:"square",color:"#222"}});
quad(f3,f3QuadLabels,f3QuadX,f3QuadY);

// ---------- D ----------
cnPanel(730,831,[50,425],gChromLines,[gDensityEdge,gDensityOuter,gDensityMid,gDensityOuter,gDensityEdge],gBandEdges,gYellowX,gYellowY,gSegStart,gSegEnd,gSegLevel,29);
bafPanel(840,907,[50,429],hChromLines,hDensity,hBandEdges,hDotsX,hDotsY);
track(88,428,926,943,[83,1105],iX,iPre,"#d2122e");
track(88,428,959,976,[83,1105],iX,iPost,"#2a6db0");
gene(88,428,985,1013,[83,1105],iGeneExonStart,iGeneExonEnd,iGeneRows.map(v=>v+2700),iGeneLines.map(v=>v+2700),175,1030,2700+280,105,1085,iRulerPos,iRulerLabels);
pline(87,925,373,904,1.3); pline(382,905,428,925,1.3);
pline(88,943,428,943,0.6,"#c8506a"); pline(88,959,428,959,0.6,"#b8b8c0"); pline(88,976,428,976,0.6,"#8d97b0");

// ---------- E ----------
barPanel(773,936,xenoRPKM,4,[0,1,2,3,4]);

// ---------- Text ----------
label("A",11,14,28); label("B",542,14,28); label("C",12,419,30); label("D",12,706,30); label("E",542,706,30);
label("Patient #5 Primary Leukemia",241,15,21);
label("Patient #5 Xenograft",240,708,21);
label("Patient #5",722,40,13); label("Primary Leukemia",722,57,13);
label("Patient #5",722,737,13); label("Xenograft",722,754,13);
label("Pre-CAR",267,419,30); label("Post-CAR",637,419,30);
["a","b","c"].forEach((t,i)=>label(t,37,[32,146,226][i],12,{font:{size:12,family:SERIF,color:"#000"}}));
["g","h","i"].forEach((t,i)=>label(t,37,[733,848,930][i],12,{font:{size:12,family:SERIF,color:"#000"}}));
label("Pre",81,240,10.5,{xanchor:"right"}); label("Post",81,273,10.5,{xanchor:"right"});
label("CD22",63,297,10.5); label("Ref Seq",81,308,10.5,{xanchor:"right"});
label("Pre",86,942,10.5,{xanchor:"right"}); label("Post",86,975,10.5,{xanchor:"right"});
label("CD22",68,998,10.5); label("Ref Seq",86,1010,10.5,{xanchor:"right"});
label("Sample: 00001_Post_02",53,212,3.5,{font:{size:3.5,color:"#444",family:SANS}});
label("Sample: CVI_xen02",55,913,3.5,{font:{size:3.5,color:"#444",family:SANS}});
label("GFP",46,565,18,{textangle:-90}); label("CD45",93,608,18);
label("CD22",303,560,18,{textangle:-90}); label("CD19",355,608,18);
label("CD22",560,560,18,{textangle:-90}); label("CD19",611,608,18);
arrow(45,543,45,448,2,10,4.5); arrow(124,610,208,610,2,9,4);
arrow(303,532,303,448,2,10,4.5); arrow(386,610,469,610,2,9,4);
arrow(560,532,560,448,2,10,4.5); arrow(642,610,726,610,2,9,4);
arrow(185,484,276,484,2.5,16,6.5); arrow(478,522,547,522,2.5,16,6.5);

Plotly.newPlot("c",traces,layout,{displayModeBar:false,staticPlot:true});
</script></body></html>
